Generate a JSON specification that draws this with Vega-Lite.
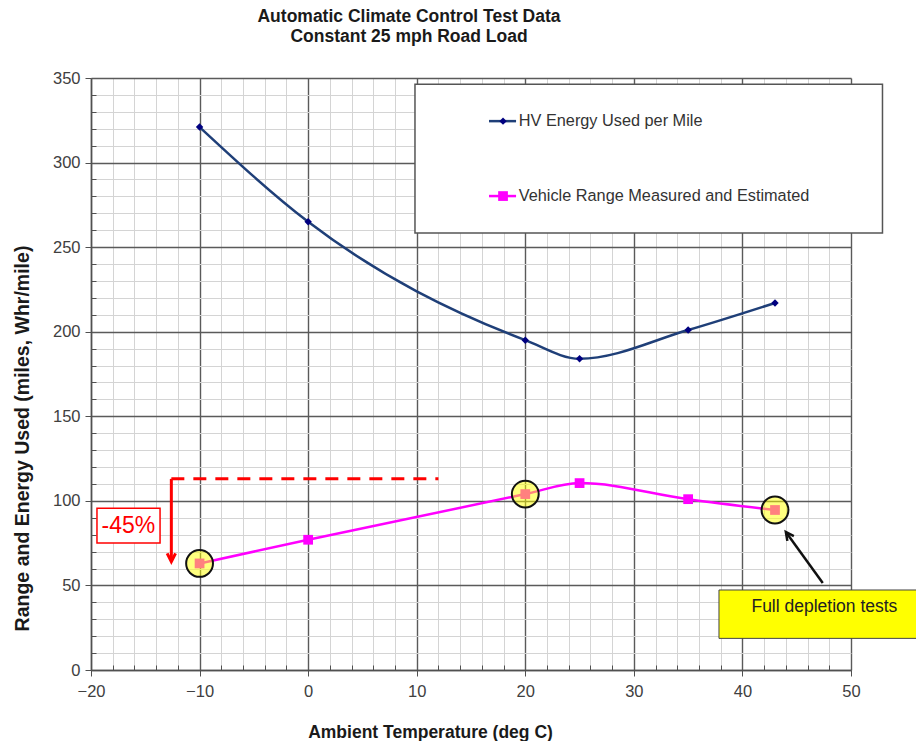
{
  "$schema": "https://vega.github.io/schema/vega-lite/v6.json",
  "width": 760,
  "height": 592,
  "autosize": "none",
  "padding": {"left": 91, "top": 78, "right": 65, "bottom": 71},
  "background": "white",
  "config": {"view": {"stroke": null}},
  "title": {
    "text": ["Automatic Climate Control Test Data", "Constant 25 mph Road Load"],
    "font": "Liberation Sans",
    "fontSize": 17.5,
    "fontWeight": "bold",
    "color": "#1a1a1a",
    "anchor": "middle",
    "frame": "group",
    "dx": -62,
    "offset": 25,
    "lineHeight": 20
  },
  "datasets": {
    "hv": [
      {"x": -10, "y": 321}, {"x": 0, "y": 265}, {"x": 20, "y": 195},
      {"x": 25, "y": 184}, {"x": 35, "y": 201}, {"x": 43, "y": 217}
    ],
    "range": [
      {"x": -10, "y": 63}, {"x": 0, "y": 77}, {"x": 20, "y": 104},
      {"x": 25, "y": 110.5}, {"x": 35, "y": 101}, {"x": 43, "y": 94.6}
    ],
    "tests": [{"x": -10, "y": 63}, {"x": 20, "y": 104}, {"x": 43, "y": 94.6}],
    "legendBox": [{"x": 9.84, "x2": 52.9, "y": 258.3, "y2": 346.3}],
    "legendLineHV": [{"x": 16.66, "x2": 19.15, "y": 324.5}],
    "legendLineRange": [{"x": 16.66, "x2": 19.15, "y": 280.2}],
    "legendMarkHV": [{"x": 17.95, "y": 324.5}],
    "legendMarkRange": [{"x": 17.95, "y": 280.2}],
    "legendText": [
      {"x": 19.4, "y": 324.5, "label": "HV Energy Used per Mile"},
      {"x": 19.4, "y": 280.2, "label": "Vehicle Range Measured and Estimated"}
    ],
    "dashed": [{"x": -12.6, "x2": 12, "y": 113}],
    "drop": [{"x": -12.6, "y": 113, "y2": 65}],
    "dropHead": [{"x": -12.6, "y": 64}],
    "pctBox": [{"x": -19.45, "x2": -13.64, "y": 75.1, "y2": 95.7}],
    "pctText": [{"x": -16.55, "y": 85.4, "label": "-45%"}],
    "pointer": [{"x": 47.4, "y": 51.4, "x2": 44.05, "y2": 81.2}],
    "pointerHead": [{"x": 44.0, "y": 81.6}],
    "noteBox": [{"x": 37.84, "x2": 57, "y": 18.7, "y2": 47.3}],
    "noteText": [{"x": 47.55, "y": 37.2, "label": "Full depletion tests"}]
  },
  "encoding": {
    "x": {
      "field": "x",
      "type": "quantitative",
      "scale": {"domain": [-20, 50], "nice": false, "zero": false},
      "axis": {
        "title": "Ambient Temperature (deg C)",
        "titleFont": "Liberation Sans",
        "titleFontSize": 17.5,
        "titleFontWeight": "bold",
        "titleColor": "#1a1a1a",
        "titleX": 339,
        "titleY": 62,
        "titleBaseline": "middle",
        "values": [-20, -18, -16, -14, -12, -10, -8, -6, -4, -2, 0, 2, 4, 6, 8, 10, 12, 14, 16, 18, 20, 22, 24, 26, 28, 30, 32, 34, 36, 38, 40, 42, 44, 46, 48, 50],
        "labelExpr": "datum.value % 10 === 0 ? datum.label : ''",
        "labelFont": "Liberation Sans",
        "labelFontSize": 16.5,
        "labelColor": "#404040",
        "labelPadding": 7,
        "labelFlush": false,
        "labelOverlap": false,
        "domainColor": "#505050",
        "domainWidth": 1.5,
        "tickColor": "#505050",
        "tickSize": {"condition": {"test": "datum.value % 10 === 0", "value": 6}, "value": -5},
        "grid": true,
        "gridColor": {"condition": {"test": "datum.value % 10 === 0", "value": "#5a5a5a"}, "value": "#d4d4d4"},
        "gridWidth": {"condition": {"test": "datum.value % 10 === 0", "value": 1.4}, "value": 1}
      }
    },
    "y": {
      "field": "y",
      "type": "quantitative",
      "scale": {"domain": [0, 350], "nice": false, "zero": false},
      "axis": {
        "title": "Range and Energy Used (miles, Whr/mile)",
        "titleFont": "Liberation Sans",
        "titleFontSize": 19.5,
        "titleFontWeight": "bold",
        "titleColor": "#1a1a1a",
        "titleX": -69,
        "titleY": 360,
        "titleBaseline": "middle",
        "values": [0, 10, 20, 30, 40, 50, 60, 70, 80, 90, 100, 110, 120, 130, 140, 150, 160, 170, 180, 190, 200, 210, 220, 230, 240, 250, 260, 270, 280, 290, 300, 310, 320, 330, 340, 350],
        "labelExpr": "datum.value % 50 === 0 ? datum.label : ''",
        "labelFont": "Liberation Sans",
        "labelFontSize": 16.5,
        "labelColor": "#404040",
        "labelPadding": 5,
        "labelFlush": false,
        "labelOverlap": false,
        "domainColor": "#505050",
        "domainWidth": 1.5,
        "tickColor": "#505050",
        "tickSize": {"condition": {"test": "datum.value % 50 === 0", "value": 6}, "value": -5},
        "grid": true,
        "gridColor": {"condition": {"test": "datum.value % 50 === 0", "value": "#5a5a5a"}, "value": "#d4d4d4"},
        "gridWidth": {"condition": {"test": "datum.value % 50 === 0", "value": 1.4}, "value": 1}
      }
    }
  },
  "layer": [
    {
      "data": {"name": "legendBox"},
      "mark": {"type": "rect", "fill": "white", "stroke": "#555555", "strokeWidth": 1.5},
      "encoding": {"x2": {"field": "x2"}, "y2": {"field": "y2"}}
    },
    {
      "data": {"name": "hv"},
      "mark": {"type": "line", "color": "#1f3f78", "strokeWidth": 2.5, "interpolate": "monotone"},
      "encoding": {}
    },
    {
      "data": {"name": "hv"},
      "mark": {"type": "point", "shape": "diamond", "filled": true, "color": "#000080", "size": 55, "opacity": 1},
      "encoding": {}
    },
    {
      "data": {"name": "range"},
      "mark": {"type": "line", "color": "#ff00ff", "strokeWidth": 2.5, "interpolate": "monotone"},
      "encoding": {}
    },
    {
      "data": {"name": "range"},
      "mark": {"type": "point", "shape": "square", "filled": true, "color": "#ff00ff", "size": 95, "opacity": 1},
      "encoding": {}
    },
    {
      "data": {"name": "tests"},
      "mark": {"type": "point", "shape": "circle", "filled": true, "fill": "#ffff00", "fillOpacity": 0.5, "stroke": "#111111", "strokeWidth": 2, "strokeOpacity": 1, "size": 720},
      "encoding": {}
    },
    {
      "data": {"name": "dashed"},
      "mark": {"type": "rule", "color": "#ff0000", "strokeWidth": 3, "strokeDash": [13, 9]},
      "encoding": {"x2": {"field": "x2"}}
    },
    {
      "data": {"name": "drop"},
      "mark": {"type": "rule", "color": "#ff0000", "strokeWidth": 3},
      "encoding": {"y2": {"field": "y2"}}
    },
    {
      "data": {"name": "dropHead"},
      "mark": {"type": "point", "shape": "M -0.5 -1 L 0 0 L 0.5 -1", "filled": false, "stroke": "#ff0000", "strokeWidth": 3, "size": 280, "opacity": 1},
      "encoding": {}
    },
    {
      "data": {"name": "pctBox"},
      "mark": {"type": "rect", "fill": "white", "stroke": "#ff0000", "strokeWidth": 1.5},
      "encoding": {"x2": {"field": "x2"}, "y2": {"field": "y2"}}
    },
    {
      "data": {"name": "pctText"},
      "mark": {"type": "text", "font": "Liberation Sans", "fontSize": 23, "color": "#ff0000", "align": "center", "baseline": "middle"},
      "encoding": {"text": {"field": "label"}}
    },
    {
      "data": {"name": "pointer"},
      "mark": {"type": "rule", "color": "#111111", "strokeWidth": 2.5},
      "encoding": {"x2": {"field": "x2"}, "y2": {"field": "y2"}}
    },
    {
      "data": {"name": "pointerHead"},
      "mark": {"type": "point", "shape": "M -0.5 1 L 0 0 L 0.5 1", "filled": false, "stroke": "#111111", "strokeWidth": 2.5, "size": 260, "angle": -36, "opacity": 1},
      "encoding": {}
    },
    {
      "data": {"name": "noteBox"},
      "mark": {"type": "rect", "fill": "#ffff00", "stroke": "#444444", "strokeWidth": 1},
      "encoding": {"x2": {"field": "x2"}, "y2": {"field": "y2"}}
    },
    {
      "data": {"name": "noteText"},
      "mark": {"type": "text", "font": "Liberation Sans", "fontSize": 17.5, "color": "#222222", "align": "center", "baseline": "middle"},
      "encoding": {"text": {"field": "label"}}
    },
    {
      "data": {"name": "legendLineHV"},
      "mark": {"type": "rule", "color": "#1f3f78", "strokeWidth": 2.5},
      "encoding": {"x2": {"field": "x2"}}
    },
    {
      "data": {"name": "legendLineRange"},
      "mark": {"type": "rule", "color": "#ff00ff", "strokeWidth": 2.5},
      "encoding": {"x2": {"field": "x2"}}
    },
    {
      "data": {"name": "legendMarkHV"},
      "mark": {"type": "point", "shape": "diamond", "filled": true, "color": "#000080", "size": 55, "opacity": 1},
      "encoding": {}
    },
    {
      "data": {"name": "legendMarkRange"},
      "mark": {"type": "point", "shape": "square", "filled": true, "color": "#ff00ff", "size": 95, "opacity": 1},
      "encoding": {}
    },
    {
      "data": {"name": "legendText"},
      "mark": {"type": "text", "font": "Liberation Sans", "fontSize": 16.3, "color": "#333333", "align": "left", "baseline": "middle"},
      "encoding": {"text": {"field": "label"}}
    }
  ]
}
